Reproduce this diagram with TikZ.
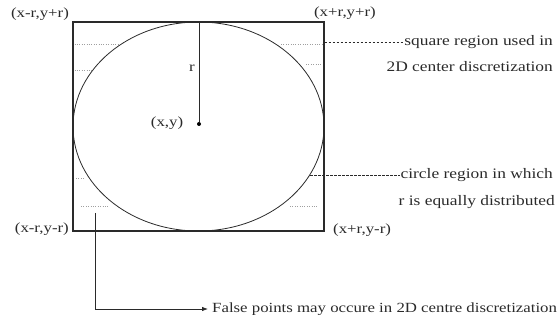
\documentclass[tikz,border=0pt]{standalone}
\usepackage{fontspec}
\setmainfont{Liberation Serif}[FakeStretch=1.2]
\usetikzlibrary{arrows.meta,shapes.geometric}
\definecolor{ink}{HTML}{2A2A2A}
\tikzset{
  lbl/.style={inner sep=0pt, text=ink, font=\fontsize{14}{17}\selectfont},
  note/.style={inner sep=0pt, text=ink, font=\fontsize{14.5}{17}\selectfont},
  frame/.style={draw=ink, line width=1.1pt},
  dots/.style={draw=gray!75, line width=0.8pt, dash pattern=on 1pt off 1.4pt},
  leader/.style={draw=ink, line width=0.6pt, dash pattern=on 2.6pt off 1.4pt},
  conn/.style={draw=ink, line width=0.8pt},
}
\begin{document}
\begin{tikzpicture}[x=1pt,y=-1pt]
\useasboundingbox (0,0) rectangle (559,320);
% square and inscribed ellipse
\node[frame, minimum width=251pt, minimum height=209pt, inner sep=0pt] (sq) at (198.5,126.5) {};
\node[draw=ink, line width=0.8pt, ellipse, minimum width=251pt, minimum height=209pt, inner sep=0pt] (el) at (198.5,126.5) {};
% centre dot and radius
\node[circle, fill=black, inner sep=0pt, minimum size=4pt] (c) at (199,124) {};
\coordinate (top) at (199,22);
\draw[conn] (top) -- (c);
\node[lbl] (r) at (192,68) {r};
\node[lbl] (xy) at (167,123) {(x,y)};
% corner labels
\node[lbl] (tl) at (40,14) {(x-r,y+r)};
\node[lbl, anchor=east] (tr) at (376,13) {(x+r,y+r)};
\node[lbl, anchor=east] (bl) at (69,229) {(x-r,y-r)};
\node[lbl, anchor=west] (br) at (333,230) {(x+r,y-r)};
% dotted false points
\draw[dots] (74.5,44) -- (118,44);
\draw[dots] (74.5,70) -- (93,70);
\draw[dots] (281,44) -- (322,44);
\draw[dots] (306,64) -- (322,64);
\draw[dots] (76,178) -- (84,178);
\draw[dots] (81,206) -- (108,206);
\draw[dots] (290,206) -- (318,206);
% square leader
\node[note, anchor=east] (sq1) at (553,42) {square region used in};
\node[note, anchor=east] (sq2) at (553,67) {2D center discretization};
\draw[leader] (sq.east |- sq1.west) -- (sq1.west);
% circle leader
\node[note, anchor=east] (ci1) at (553,175) {circle region in which};
\node[note, anchor=east] (ci2) at (555,202) {r is equally distributed};
\coordinate (ep) at (310,175);
\draw[leader] (ep) -- (ci1.west);
% false points arrow
\coordinate (fs) at (95,213);
\node[lbl, anchor=west] (fp) at (212,309) {False points may occure in 2D centre discretization};
\draw[conn, -{Latex[length=6pt,width=4.5pt]}] (fs) |- ([xshift=-4pt]fp.west);
\end{tikzpicture}
\end{document}
